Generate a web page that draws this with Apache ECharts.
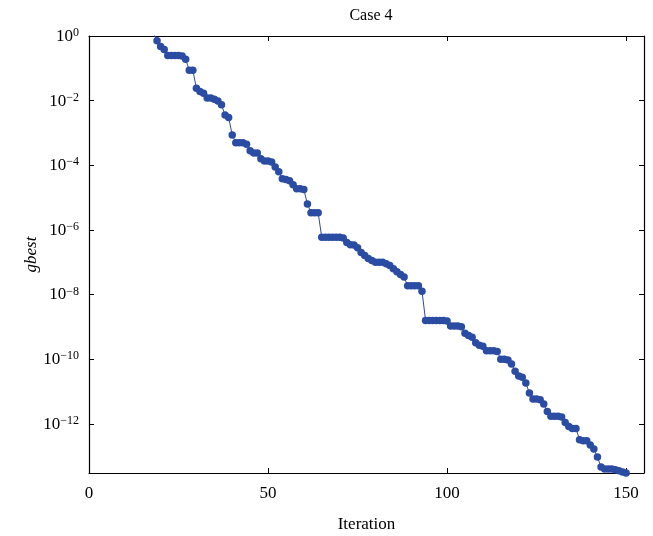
<!DOCTYPE html>
<html>
<head>
<meta charset="utf-8">
<script src="https://cdn.jsdelivr.net/npm/echarts@6/dist/echarts.min.js"></script>
<style>html,body{margin:0;padding:0;background:#fff;}#c{width:653px;height:536px;}</style>
</head>
<body>
<div id="c"></div>
<script>
// ---- data ----
const titleText = 'Case 4';
const xName = 'Iteration';
const yName = 'gbest';
const xTicks = [0, 50, 100, 150];
const yTickValues = [1, 1e-2, 1e-4, 1e-6, 1e-8, 1e-10, 1e-12];
const yTickExponents = [0, -2, -4, -6, -8, -10, -12];
const iterationStart = 18;
const gbest = [
  1.2, 0.71, 0.47, 0.38, 0.25, 0.25, 0.25, 0.25, 0.24, 0.19,
  0.087, 0.087, 0.024, 0.019, 0.017, 0.012, 0.012, 0.011, 9.8e-3, 7.4e-3,
  3.6e-3, 3.0e-3, 8.7e-4, 5.0e-4, 5.0e-4, 5.0e-4, 4.5e-4, 2.8e-4, 2.4e-4, 2.4e-4,
  1.6e-4, 1.35e-4, 1.35e-4, 1.26e-4, 8.9e-5, 6.3e-5, 3.8e-5, 3.6e-5, 3.3e-5, 2.5e-5,
  1.86e-5, 1.86e-5, 1.78e-5, 6.3e-6, 3.4e-6, 3.4e-6, 3.4e-6, 5.9e-7, 5.9e-7, 5.9e-7,
  5.9e-7, 5.9e-7, 5.9e-7, 5.6e-7, 4.1e-7, 3.5e-7, 3.4e-7, 2.8e-7, 2.0e-7, 1.6e-7,
  1.3e-7, 1.12e-7, 1.0e-7, 1.0e-7, 1.0e-7, 8.9e-8, 7.9e-8, 6.3e-8, 5.1e-8, 4.2e-8,
  3.5e-8, 1.86e-8, 1.86e-8, 1.86e-8, 1.86e-8, 1.26e-8, 1.58e-9, 1.58e-9, 1.58e-9, 1.58e-9,
  1.58e-9, 1.58e-9, 1.51e-9, 1.07e-9, 1.07e-9, 1.07e-9, 1.0e-9, 6.3e-10, 5.4e-10, 4.8e-10,
  3.2e-10, 2.7e-10, 2.5e-10, 1.82e-10, 1.82e-10, 1.82e-10, 1.74e-10, 1.0e-10, 1.0e-10, 9.5e-11,
  7.1e-11, 4.2e-11, 3.0e-11, 2.75e-11, 1.82e-11, 8.9e-12, 5.8e-12, 5.8e-12, 5.5e-12, 4.1e-12,
  2.4e-12, 1.7e-12, 1.7e-12, 1.7e-12, 1.62e-12, 1.1e-12, 8.3e-13, 7.2e-13, 7.2e-13, 3.2e-13,
  3.0e-13, 3.0e-13, 2.2e-13, 1.66e-13, 9.3e-14, 4.6e-14, 4.0e-14, 4.0e-14, 4.0e-14, 3.8e-14,
  3.5e-14, 3.2e-14, 3.0e-14
];
const xMin = 0, xMax = 155;
const yMin = 3.0e-14, yMax = 1;

// ---- chart ----
const seriesData = gbest.map((v, i) => [iterationStart + i, v]);
const font = '"Liberation Serif", "DejaVu Serif", serif';
const blue = '#2b4ca3';
const gridLeft = 89, gridRight = 9, chartWidth = 653;
const plotWidth = chartWidth - gridLeft - gridRight;

function yLabel(v) {
  const e = Math.log10(v);
  const r = Math.round(e);
  if (Math.abs(e - r) > 1e-6 || yTickExponents.indexOf(r) < 0) return '';
  return '{b|10}{s|' + (r === 0 ? '0' : '\u2212' + (-r)) + '}';
}
function xLabel(v) {
  return xTicks.indexOf(v) >= 0 ? String(v) : '';
}

const chart = echarts.init(document.getElementById('c'), null, {renderer: 'canvas'});
const axisLineStyle = {color: '#000', width: 1.2};
const tick = {show: true, inside: true, length: 5, lineStyle: {color: '#000', width: 1}};
chart.setOption({
  animation: false,
  backgroundColor: '#fff',
  title: {
    text: titleText, left: 366, top: 3, textAlign: 'center',
    textStyle: {fontFamily: font, fontSize: 16, fontWeight: 'normal', color: '#000'}
  },
  grid: {left: gridLeft, right: gridRight, top: 36, bottom: 63, containLabel: false, outerBoundsMode: 'none'},
  xAxis: [{
    type: 'value', min: xMin, max: xMax, interval: 50, position: 'bottom',
    name: xName, nameLocation: 'middle', nameGap: 43, nameMoveOverlap: false,
    nameTextStyle: {fontFamily: font, fontSize: 17, color: '#000'},
    axisLine: {show: true, lineStyle: axisLineStyle},
    axisTick: tick,
    axisLabel: {formatter: xLabel, fontFamily: font, fontSize: 17, color: '#000', margin: 12, showMaxLabel: false},
    splitLine: {show: false}
  }, {
    type: 'value', min: xMin, max: xMax, interval: 50, position: 'top',
    axisLine: {show: true, lineStyle: axisLineStyle},
    axisTick: tick,
    axisLabel: {show: false},
    splitLine: {show: false}
  }],
  yAxis: [{
    type: 'log', logBase: 10, min: yMin, max: yMax, position: 'left',
    name: yName, nameLocation: 'middle', nameGap: 49, nameRotate: 90, nameMoveOverlap: false,
    nameTextStyle: {fontFamily: font, fontSize: 17, fontStyle: 'italic', color: '#000'},
    axisLine: {show: true, lineStyle: axisLineStyle},
    axisTick: Object.assign({customValues: yTickValues}, tick),
    axisLabel: {
      customValues: yTickValues,
      formatter: yLabel, fontFamily: font, color: '#000', margin: 10,
      rich: {
        b: {fontFamily: font, fontSize: 17, color: '#000', verticalAlign: 'bottom', lineHeight: 18, padding: [6, 0, 0, 0]},
        s: {fontFamily: font, fontSize: 12, color: '#000', verticalAlign: 'top', lineHeight: 14, padding: [0, 0, 10, 0]}
      }
    },
    splitLine: {show: false}
  }, {
    // right frame edge: a left-positioned axis shifted onto the right edge
    type: 'log', logBase: 10, min: yMin, max: yMax, position: 'left', offset: -plotWidth,
    axisLine: {show: true, lineStyle: axisLineStyle},
    axisTick: {show: true, inside: false, length: 5, lineStyle: {color: '#000', width: 1}, customValues: yTickValues},
    axisLabel: {show: false, customValues: yTickValues},
    splitLine: {show: false}
  }],
  series: [{
    type: 'line', xAxisIndex: 0, yAxisIndex: 0, data: seriesData,
    symbol: 'circle', symbolSize: 7.5, showSymbol: true, clip: true,
    lineStyle: {color: blue, width: 1},
    itemStyle: {color: blue}
  }]
});
</script>
</body>
</html>
